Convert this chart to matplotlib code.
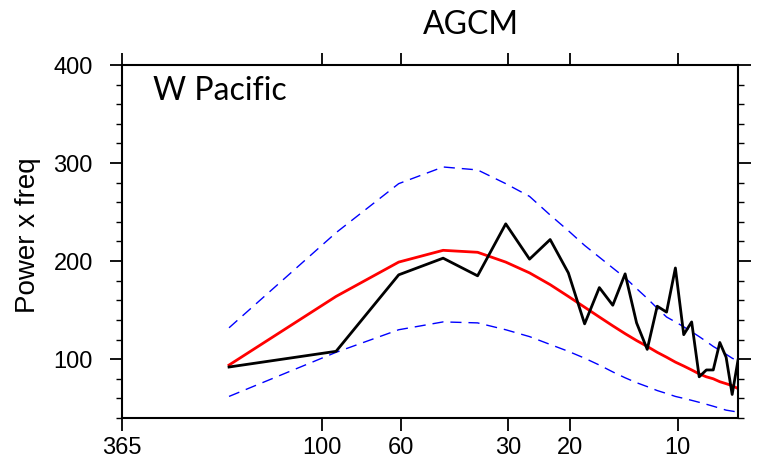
import numpy as np
import matplotlib.pyplot as plt
from matplotlib.ticker import FixedLocator, MultipleLocator, NullLocator

# spectral estimates at even harmonics of the annual cycle
harmonic = [2, 4, 6, 8, 10, 12, 14, 16, 18, 20, 22, 24, 26, 28,
            30, 32, 34, 36, 38, 40, 42, 44, 46, 48, 50, 52, 54]

agcm_power = [92, 108, 186, 203, 185, 238, 202, 222, 188, 136, 173, 155, 187, 137,
              110, 154, 148, 193, 125, 138, 82, 89, 89, 117, 102, 64, 99]

red_noise = [94, 164, 199, 211, 209, 199, 188, 176, 164, 153, 143, 134, 126, 119,
             113, 107, 102, 97, 93, 89, 85, 82, 80, 77, 75, 73, 70]

red_upper = [132, 229, 279, 296, 293, 279, 266, 247, 231, 216, 204, 193, 183, 172,
             162, 152, 143, 138, 133, 128, 123, 118, 113, 109, 105, 101, 98]

red_lower = [62, 107, 130, 138, 137, 130, 123, 115, 108, 101, 94, 87, 81, 76,
             72, 68, 65, 62, 60, 58, 56, 54, 52, 50, 48, 47, 46]

period_ticks = [365, 100, 60, 30, 20, 10]

freq = np.array(harmonic) / 365.0

fig = plt.figure(figsize=(7.67, 4.65), dpi=100)
ax = fig.add_axes([122 / 767, 1 - 418 / 465, 616 / 767, 353 / 465])

ax.plot(freq, red_upper, color='blue', lw=1.0, dashes=(8, 5))
ax.plot(freq, red_lower, color='blue', lw=1.0, dashes=(8, 5))
ax.plot(freq, red_noise, color='red', lw=2.0)
ax.plot(freq, agcm_power, color='black', lw=2.0)

ax.set_xscale('log')
ax.set_xlim(1 / 365.0, 54 / 365.0)
ax.set_ylim(40, 400)

ax.xaxis.set_major_locator(FixedLocator([1.0 / p for p in period_ticks]))
ax.xaxis.set_minor_locator(NullLocator())
ax.set_xticklabels([str(p) for p in period_ticks])
ax.yaxis.set_major_locator(MultipleLocator(100))
ax.yaxis.set_minor_locator(MultipleLocator(20))

for sp in ax.spines.values():
    sp.set_linewidth(1.5)

ax.tick_params(which='both', direction='out', top=True, right=True,
               labeltop=False, labelright=False, width=1.3)
ax.tick_params(axis='x', which='major', length=9, pad=5, labelsize=17)
ax.tick_params(axis='y', which='major', length=9, pad=12, labelsize=17)
ax.tick_params(axis='y', which='minor', length=4.5, width=1.0)
for lab in ax.get_xticklabels() + ax.get_yticklabels():
    lab.set_family('Liberation Sans')

fig.text(28 / 767, 1 - 235 / 465, 'Power x freq', rotation=90, ha='center',
         va='center', fontsize=20, family='Liberation Sans')
fig.text(471 / 767, 1 - 34 / 465, 'AGCM', ha='center', va='baseline',
         fontsize=23, family='Lato')
fig.text(153 / 767, 1 - 100 / 465, 'W Pacific', ha='left', va='baseline',
         fontsize=23, family='Lato')

fig.savefig('out.png', dpi=100)
